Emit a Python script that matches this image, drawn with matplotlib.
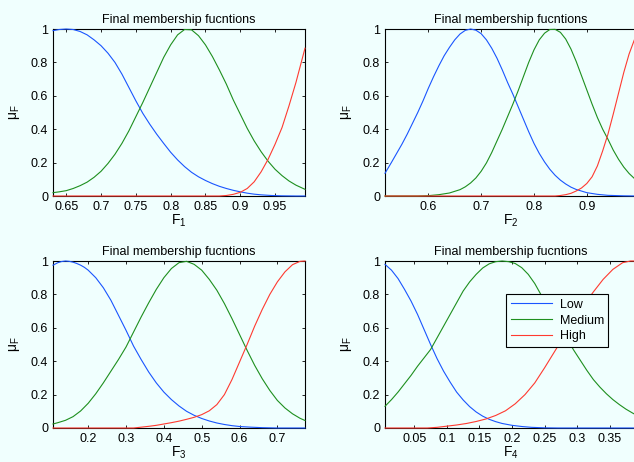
import matplotlib
matplotlib.use("Agg")
import matplotlib.pyplot as plt

plt.rcParams['font.family'] = ['Liberation Sans', 'DejaVu Sans']
plt.rcParams['mathtext.fontset'] = 'custom'
plt.rcParams['mathtext.rm'] = 'Liberation Sans'
plt.rcParams['mathtext.it'] = 'Liberation Sans:italic'

BG = '#f0fffe'
BLUE = '#1a55ff'
GREEN = '#1e8f1e'
RED = '#ff3a30'

# ---- F1 ----
f1_low_x = [0.631, 0.64, 0.65, 0.66, 0.67, 0.68, 0.69, 0.70, 0.71, 0.72, 0.73, 0.74, 0.75, 0.76, 0.77, 0.78,
            0.79, 0.80, 0.81, 0.82, 0.83, 0.84, 0.85, 0.86, 0.87, 0.88, 0.89, 0.90, 0.91, 0.92, 0.93, 0.945,
            0.96, 0.98, 0.993]
f1_low_y = [0.99, 0.997, 1.0, 0.997, 0.985, 0.965, 0.935, 0.90, 0.855, 0.80, 0.73, 0.65, 0.57, 0.495, 0.43,
            0.37, 0.315, 0.262, 0.216, 0.176, 0.142, 0.115, 0.093, 0.074, 0.058, 0.045, 0.034, 0.025, 0.017,
            0.011, 0.007, 0.003, 0.001, 0.0, 0.0]
f1_med_x = [0.631, 0.64, 0.65, 0.66, 0.67, 0.68, 0.69, 0.70, 0.71, 0.72, 0.73, 0.74, 0.75, 0.76, 0.77, 0.78,
            0.79, 0.80, 0.81, 0.82, 0.83, 0.84, 0.85, 0.86, 0.87, 0.88, 0.89, 0.90, 0.91, 0.92, 0.93, 0.94,
            0.95, 0.96, 0.97, 0.98, 0.993]
f1_med_y = [0.02, 0.025, 0.032, 0.045, 0.062, 0.083, 0.112, 0.148, 0.195, 0.25, 0.315, 0.39, 0.475, 0.56,
            0.65, 0.74, 0.83, 0.905, 0.965, 0.997, 0.995, 0.96, 0.905, 0.835, 0.755, 0.67, 0.575, 0.49, 0.405,
            0.33, 0.265, 0.208, 0.16, 0.122, 0.09, 0.065, 0.04]
f1_high_x = [0.631, 0.87, 0.88, 0.89, 0.90, 0.91, 0.92, 0.93, 0.94, 0.95, 0.96, 0.97, 0.98, 0.993]
f1_high_y = [0.0, 0.0, 0.003, 0.01, 0.022, 0.045, 0.085, 0.145, 0.22, 0.31, 0.41, 0.54, 0.68, 0.885]

# ---- F2 ----
f2_low_x = [0.518, 0.53, 0.54, 0.55, 0.56, 0.57, 0.58, 0.59, 0.60, 0.61, 0.62, 0.63, 0.64, 0.65, 0.66, 0.67,
            0.68, 0.69, 0.70, 0.71, 0.72, 0.73, 0.74, 0.75, 0.76, 0.77, 0.78, 0.79, 0.80, 0.81, 0.82, 0.83,
            0.84, 0.85, 0.86, 0.87, 0.88, 0.90, 0.92, 0.94, 0.97, 0.995]
f2_low_y = [0.136, 0.2, 0.255, 0.31, 0.37, 0.435, 0.5, 0.57, 0.645, 0.715, 0.78, 0.84, 0.89, 0.935, 0.97,
            0.992, 1.0, 0.993, 0.972, 0.935, 0.885, 0.825, 0.755, 0.68, 0.61, 0.535, 0.46, 0.385, 0.315, 0.255,
            0.204, 0.16, 0.124, 0.095, 0.072, 0.053, 0.039, 0.02, 0.01, 0.004, 0.001, 0.0]
f2_med_x = [0.518, 0.58, 0.60, 0.62, 0.64, 0.66, 0.67, 0.68, 0.69, 0.70, 0.71, 0.72, 0.73, 0.74, 0.75, 0.76,
            0.77, 0.78, 0.79, 0.80, 0.81, 0.82, 0.83, 0.84, 0.85, 0.86, 0.87, 0.88, 0.89, 0.90, 0.91, 0.92,
            0.93, 0.94, 0.95, 0.96, 0.97, 0.98, 0.995]
f2_med_y = [0.0, 0.0, 0.002, 0.008, 0.018, 0.038, 0.055, 0.078, 0.108, 0.148, 0.198, 0.26, 0.33, 0.4, 0.475,
            0.55, 0.63, 0.715, 0.8, 0.875, 0.935, 0.975, 0.997, 0.998, 0.98, 0.94, 0.88, 0.805, 0.72, 0.635,
            0.55, 0.47, 0.4, 0.34, 0.275, 0.22, 0.173, 0.135, 0.09]
f2_high_x = [0.518, 0.84, 0.85, 0.86, 0.87, 0.88, 0.89, 0.90, 0.91, 0.92, 0.93, 0.94, 0.95, 0.96, 0.97, 0.98,
             0.99, 0.995]
f2_high_y = [0.0, 0.0, 0.003, 0.008, 0.016, 0.03, 0.048, 0.075, 0.115, 0.18, 0.27, 0.37, 0.49, 0.615, 0.74,
             0.85, 0.935, 0.965]

# ---- F3 ----
f3_low_x = [0.107, 0.12, 0.13, 0.14, 0.15, 0.16, 0.17, 0.18, 0.19, 0.20, 0.22, 0.24, 0.26, 0.28, 0.30, 0.32,
            0.34, 0.36, 0.38, 0.40, 0.42, 0.44, 0.46, 0.48, 0.50, 0.52, 0.54, 0.56, 0.58, 0.60, 0.63, 0.66,
            0.70, 0.773]
f3_low_y = [0.975, 0.99, 0.997, 1.0, 0.998, 0.993, 0.985, 0.975, 0.962, 0.945, 0.9, 0.84, 0.765, 0.675,
            0.585, 0.49, 0.41, 0.335, 0.27, 0.215, 0.17, 0.132, 0.1, 0.076, 0.057, 0.042, 0.03, 0.021, 0.014,
            0.009, 0.005, 0.002, 0.0, 0.0]
f3_med_x = [0.107, 0.12, 0.14, 0.16, 0.18, 0.20, 0.22, 0.24, 0.26, 0.28, 0.30, 0.32, 0.34, 0.36, 0.38, 0.40,
            0.42, 0.44, 0.46, 0.48, 0.50, 0.52, 0.54, 0.56, 0.58, 0.60, 0.62, 0.64, 0.66, 0.68, 0.70, 0.72,
            0.74, 0.76, 0.773]
f3_med_y = [0.024, 0.032, 0.046, 0.068, 0.102, 0.148, 0.205, 0.27, 0.34, 0.41, 0.485, 0.575, 0.665, 0.75,
            0.83, 0.9, 0.955, 0.99, 0.998, 0.98, 0.945, 0.89, 0.825, 0.745, 0.655, 0.56, 0.465, 0.375, 0.295,
            0.225, 0.165, 0.12, 0.085, 0.058, 0.045]
f3_high_x = [0.107, 0.32, 0.34, 0.36, 0.38, 0.40, 0.42, 0.44, 0.46, 0.48, 0.50, 0.52, 0.54, 0.56, 0.58, 0.60,
             0.62, 0.64, 0.66, 0.68, 0.70, 0.72, 0.74, 0.76, 0.773]
f3_high_y = [0.0, 0.0, 0.005, 0.01, 0.016, 0.024, 0.032, 0.041, 0.052, 0.064, 0.08, 0.103, 0.14, 0.2,
             0.29, 0.395, 0.5, 0.61, 0.71, 0.8, 0.875, 0.935, 0.978, 0.998, 1.0]

# ---- F4 ----
f4_low_x = [0.005, 0.015, 0.025, 0.035, 0.045, 0.055, 0.065, 0.075, 0.085, 0.095, 0.105, 0.115, 0.125, 0.135,
            0.145, 0.155, 0.165, 0.175, 0.185, 0.20, 0.215, 0.23, 0.25, 0.27, 0.392]
f4_low_y = [0.98, 0.945, 0.895, 0.83, 0.76, 0.68, 0.59, 0.5, 0.415, 0.34, 0.275, 0.215, 0.168, 0.128, 0.096,
            0.071, 0.052, 0.038, 0.027, 0.016, 0.009, 0.004, 0.001, 0.0, 0.0]
f4_med_x = [0.005, 0.015, 0.025, 0.035, 0.045, 0.055, 0.065, 0.075, 0.085, 0.095, 0.105, 0.115, 0.125, 0.135,
            0.145, 0.155, 0.165, 0.175, 0.185, 0.195, 0.205, 0.215, 0.225, 0.235, 0.245, 0.255, 0.265, 0.275,
            0.285, 0.295, 0.305, 0.315, 0.325, 0.335, 0.345, 0.355, 0.365, 0.375, 0.385, 0.392]
f4_med_y = [0.13, 0.17, 0.215, 0.265, 0.315, 0.37, 0.42, 0.47, 0.54, 0.61, 0.68, 0.75, 0.82, 0.875, 0.92,
            0.958, 0.983, 0.996, 1.0, 0.996, 0.985, 0.96, 0.92, 0.865, 0.795, 0.725, 0.655, 0.59, 0.53, 0.465,
            0.405, 0.345, 0.29, 0.245, 0.205, 0.17, 0.14, 0.113, 0.09, 0.075]
f4_high_x = [0.005, 0.07, 0.085, 0.10, 0.115, 0.13, 0.145, 0.16, 0.175, 0.19, 0.205, 0.22, 0.235, 0.25, 0.265,
             0.28, 0.295, 0.31, 0.325, 0.34, 0.355, 0.37, 0.382, 0.392]
f4_high_y = [0.0, 0.0, 0.004, 0.011, 0.018, 0.027, 0.039, 0.054, 0.075, 0.103, 0.145, 0.2, 0.27, 0.36, 0.455,
             0.55, 0.645, 0.735, 0.815, 0.89, 0.95, 0.99, 1.0, 1.0]

xlims = [(0.631, 0.993), (0.518, 0.995), (0.107, 0.773), (0.005, 0.392)]
xticks = [[0.65, 0.7, 0.75, 0.8, 0.85, 0.9, 0.95],
          [0.6, 0.7, 0.8, 0.9],
          [0.2, 0.3, 0.4, 0.5, 0.6, 0.7],
          [0.05, 0.1, 0.15, 0.2, 0.25, 0.3, 0.35]]
xticklabels = [['0.65', '0.7', '0.75', '0.8', '0.85', '0.9', '0.95'],
               ['0.6', '0.7', '0.8', '0.9'],
               ['0.2', '0.3', '0.4', '0.5', '0.6', '0.7'],
               ['0.05', '0.1', '0.15', '0.2', '0.25', '0.3', '0.35']]
yticks = [0, 0.2, 0.4, 0.6, 0.8, 1]
yticklabels = ['0', '0.2', '0.4', '0.6', '0.8', '1']
xlabels = ['$\\mathregular{F_1}$', '$\\mathregular{F_2}$', '$\\mathregular{F_3}$', '$\\mathregular{F_4}$']
series = [
    (f1_low_x, f1_low_y, f1_med_x, f1_med_y, f1_high_x, f1_high_y),
    (f2_low_x, f2_low_y, f2_med_x, f2_med_y, f2_high_x, f2_high_y),
    (f3_low_x, f3_low_y, f3_med_x, f3_med_y, f3_high_x, f3_high_y),
    (f4_low_x, f4_low_y, f4_med_x, f4_med_y, f4_high_x, f4_high_y),
]

fig = plt.figure(figsize=(6.34, 4.62), dpi=100, facecolor=BG)
W, H = 634.0, 462.0
boxes = [(53, 29), (385, 29), (53, 261), (385, 261)]
fs = 9

for i, (left, top) in enumerate(boxes):
    ax = fig.add_axes([left / W, 1 - (top + 167) / H, 252 / W, 167 / H])
    ax.set_facecolor(BG)
    lx, ly, mx, my, hx, hy = series[i]
    ax.plot(lx, ly, color=BLUE, lw=0.8, label='Low', clip_on=False, zorder=3)
    ax.plot(mx, my, color=GREEN, lw=0.8, label='Medium', clip_on=False, zorder=3)
    ax.plot(hx, hy, color=RED, lw=0.8, label='High', clip_on=False, zorder=3)
    ax.set_xlim(*xlims[i])
    ax.set_ylim(0, 1)
    ax.set_xticks(xticks[i])
    ax.set_xticklabels(xticklabels[i])
    ax.set_yticks(yticks)
    ax.set_yticklabels(yticklabels)
    ax.tick_params(direction='in', length=2.5, width=0.6, top=True, right=True,
                   labelsize=fs, pad=3.5)
    for s in ax.spines.values():
        s.set_linewidth(0.8)
    ax.set_title('Final membership fucntions', fontsize=fs, pad=4.5)
    ax.set_xlabel(xlabels[i], fontsize=fs + 1, labelpad=0)
    ax.set_ylabel('$\\mathregular{\\mu_F}$', fontsize=fs + 1, labelpad=6)
    if i == 3:
        leg = ax.legend(loc='upper left', bbox_to_anchor=(0.482, 0.80), fontsize=fs,
                        fancybox=False, framealpha=1, facecolor=BG, edgecolor='black',
                        handlelength=3.3, labelspacing=0.3, borderpad=0.35,
                        handletextpad=0.6, borderaxespad=0)
        leg.get_frame().set_linewidth(0.8)

plt.savefig('out.png', dpi=100, facecolor=BG)
